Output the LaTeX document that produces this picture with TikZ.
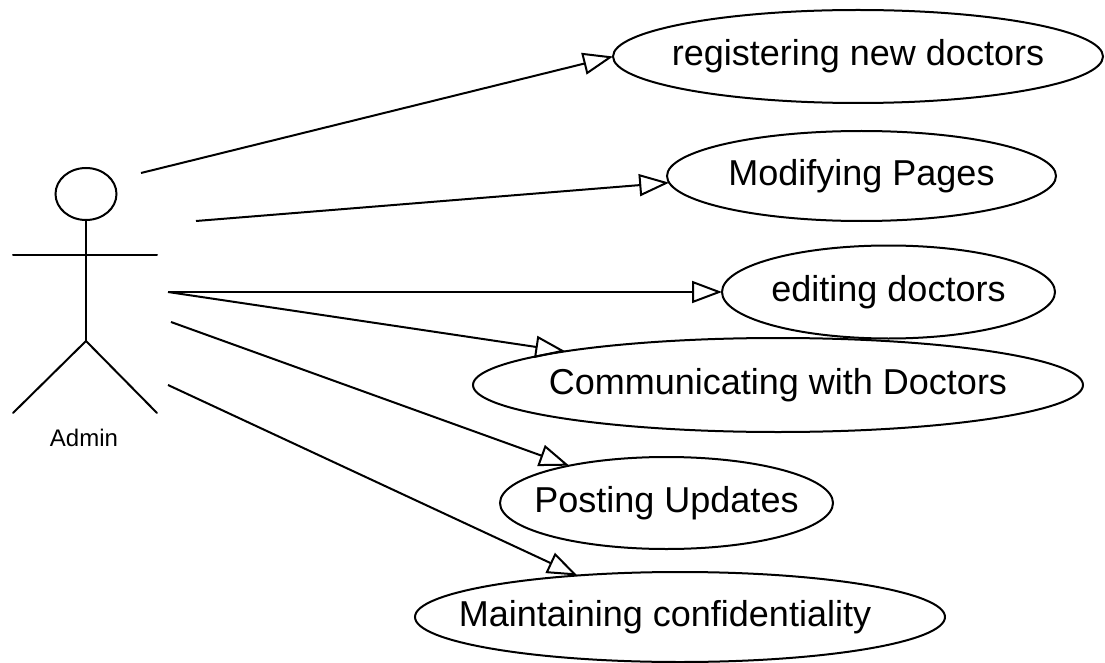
\documentclass[tikz,border=0pt]{standalone}
\usepackage{fontspec}
\setmainfont{Liberation Sans}
\usetikzlibrary{arrows.meta,shapes.geometric}

% centred text that does not widen the ellipse around it
\newcommand{\uctext}[1]{\makebox[0pt][c]{#1}}

\tikzset{
  usecase/.style={draw=black, line width=2pt, ellipse, inner sep=0pt, outer sep=0pt,
    font=\fontsize{36}{40}\selectfont},
  assoc/.style={draw=black, line width=2pt,
    -{Triangle[open, length=30pt, width=22pt, line width=2pt]}},
  stick/.style={draw=black, line width=2pt, line cap=round},
  actorname/.style={font=\fontsize{24}{28}\selectfont, inner sep=0pt}
}

\begin{document}
\begin{tikzpicture}[x=1pt, y=-1pt]
  \useasboundingbox (0,0) rectangle (1105,663);
  \fill[white] (0,0) rectangle (1105,663);

  % actor stick figure
  \draw[stick] (86,194) ellipse [x radius=30.5, y radius=26];
  \draw[stick] (86,220) -- (86,341);
  \draw[stick] (13,255) -- (157,255);
  \draw[stick] (13,413) -- (86,341) -- (157,413);
  \node[actorname] (admin) at (84,438) {Admin};

  % use cases
  \node[usecase, minimum width=490, minimum height=93] (uc1) at (858,56.5) {\uctext{registering new doctors}};
  \node[usecase, minimum width=389, minimum height=90] (uc2) at (861.5,176) {\uctext{Modifying Pages}};
  \node[usecase, minimum width=333, minimum height=93] (uc3) at (888.5,292) {\uctext{editing doctors}};
  \node[usecase, minimum width=610, minimum height=94] (uc4) at (778,385) {\uctext{Communicating with Doctors}};
  \node[usecase, minimum width=333, minimum height=92] (uc5) at (666.5,503) {\uctext{Posting Updates}};
  \node[usecase, minimum width=530, minimum height=90] (uc6) at (680,617)
        {\uctext{\hspace*{-30pt}Maintaining confidentiality}};

  % association start points beside the actor
  \coordinate (s1) at (141,173);
  \coordinate (s2) at (196,221);
  \coordinate (s3) at (168,292);
  \coordinate (s5) at (171,322);
  \coordinate (s6) at (168,385);

  % associations
  \draw[assoc] (s1) -- (uc1.west);
  \draw[assoc] (s2) -- (uc2.182);
  \draw[assoc] (s3) -- (uc3.west);
  \draw[assoc] (s3) -- (uc4.171);
  \draw[assoc] (s5) -- (uc5.159.5);
  \draw[assoc] (s6) -- (uc6.158.3);
\end{tikzpicture}
\end{document}
